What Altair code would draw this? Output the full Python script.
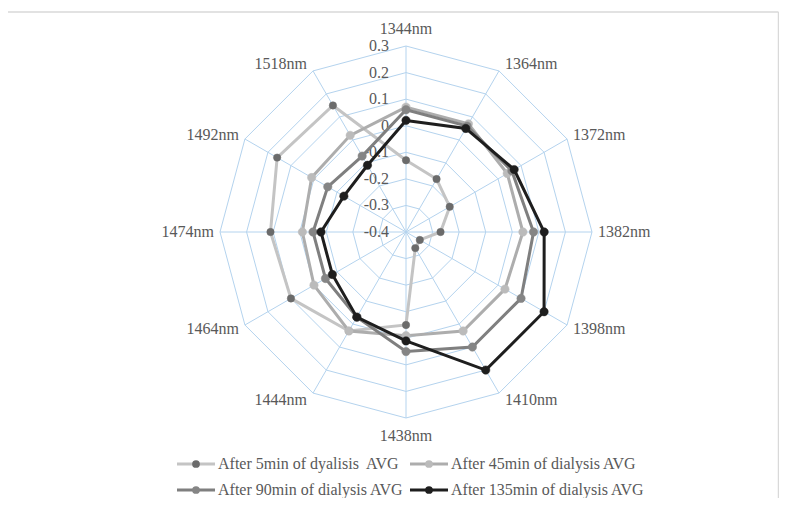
import math
import altair as alt
import pandas as pd

# ---------------- data ----------------
categories = ["1344nm", "1364nm", "1372nm", "1382nm", "1398nm", "1410nm",
              "1438nm", "1444nm", "1464nm", "1474nm", "1492nm", "1518nm"]
after_5min = [-0.13, -0.17, -0.21, -0.27, -0.34, -0.33, -0.05, 0.03, 0.10, 0.11, 0.16, 0.15]
after_45min = [0.07, 0.07, 0.04, 0.04, 0.03, 0.03, -0.01, 0.03, 0.00, -0.01, 0.01, 0.02]
after_90min = [0.06, 0.06, 0.06, 0.08, 0.10, 0.10, 0.05, -0.03, -0.05, -0.05, -0.06, -0.07]
after_135min = [0.02, 0.05, 0.07, 0.12, 0.20, 0.20, 0.01, -0.03, -0.08, -0.08, -0.13, -0.11]
series_names = ["After 5min of dyalisis\u00a0 AVG", "After 45min of dialysis AVG",
                "After 90min of dialysis AVG", "After 135min of dialysis AVG"]
series_values = [after_5min, after_45min, after_90min, after_135min]
tick_values = [-0.4, -0.3, -0.2, -0.1, 0.0, 0.1, 0.2, 0.3]
tick_labels = ["-0.4", "-0.3", "-0.2", "-0.1", "0", "0.1", "0.2", "0.3"]

# ---------------- styles ----------------
line_colors = ["#C4C4C4", "#ADADAD", "#7F7F7F", "#1E1E1E"]
marker_colors = ["#6B6B6B", "#BBBBBB", "#858585", "#1E1E1E"]
marker_sizes = [55, 70, 70, 70]
grid_color = "#B4D3EE"
text_color = "#595959"
FONT = "Liberation Serif"
FS = 16

W, H = 771, 490
CX, CY = 398, 224          # centre of the radar, in plot pixels
K = 265.7                  # pixels per value unit
RMIN = tick_values[0]
RMAX = tick_values[-1] - RMIN

xs = alt.Scale(domain=[-CX / K, (W - CX) / K], range=[0, W], nice=False, zero=False)
ys = alt.Scale(domain=[-(H - CY) / K, CY / K], range=[H, 0], nice=False, zero=False)
noax = None

n = len(categories)
ang = [2 * math.pi * i / n for i in range(n)]

# series table
rows = []
for s, (name, vals) in enumerate(zip(series_names, series_values)):
    for i in range(n + 1):
        j = i % n
        r = vals[j] - RMIN
        rows.append({"series": name, "sid": s, "cat": categories[j], "value": vals[j],
                     "ord": i, "x": r * math.sin(ang[j]), "y": r * math.cos(ang[j])})
sdf = pd.DataFrame(rows)

# grid rings
grows = []
for t in tick_values[1:]:
    r = t - RMIN
    for i in range(n + 1):
        j = i % n
        grows.append({"ring": t, "ord": i, "x": r * math.sin(ang[j]), "y": r * math.cos(ang[j])})
gdf = pd.DataFrame(grows)

spdf = pd.DataFrame({"x": [0.0] * n, "y": [0.0] * n,
                     "x2": [RMAX * math.sin(a) for a in ang],
                     "y2": [RMAX * math.cos(a) for a in ang]})

tdf = pd.DataFrame({"x": [0.0] * len(tick_values),
                    "y": [t - RMIN for t in tick_values], "label": tick_labels})

# category labels
lrows = []
for c, a in zip(categories, ang):
    s, co = math.sin(a), math.cos(a)
    vx, vy = RMAX * s, RMAX * co
    if abs(s) < 0.01:
        align = "center"
        dxp = 0
        dyp = -17 if co > 0 else 18
    else:
        align = "left" if s > 0 else "right"
        dxp = 6 if s > 0 else -6
        dyp = -8 * co
    lrows.append({"label": c, "align": align, "x": vx + dxp / K, "y": vy - dyp / K})
ldf = pd.DataFrame(lrows)

X = lambda f: alt.X(f, type="quantitative", scale=xs, axis=noax)
Y = lambda f: alt.Y(f, type="quantitative", scale=ys, axis=noax)

rings = alt.Chart(gdf).mark_line(color=grid_color, strokeWidth=1).encode(
    x=X("x"), y=Y("y"), detail="ring:N", order="ord:Q")
spokes = alt.Chart(spdf).mark_rule(color=grid_color, strokeWidth=1).encode(
    x=X("x"), y=Y("y"), x2="x2", y2="y2")
ticks = alt.Chart(tdf).mark_text(align="right", baseline="middle", dx=-17,
                                 font=FONT, fontSize=FS, color=text_color).encode(
    x=X("x"), y=Y("y"), text="label:N")

label_layers = []
for al in ["left", "center", "right"]:
    label_layers.append(
        alt.Chart(ldf).transform_filter(alt.datum.align == al).mark_text(
            align=al, baseline="middle", font=FONT, fontSize=FS, color=text_color).encode(
            x=X("x"), y=Y("y"), text="label:N"))

series_layers = []
for s, name in enumerate(series_names):
    base = alt.Chart(sdf).transform_filter(alt.datum.sid == s)
    series_layers.append(base.mark_line(color=line_colors[s], strokeWidth=3).encode(
        x=X("x"), y=Y("y"), order="ord:Q"))
    series_layers.append(base.transform_filter(alt.datum.ord < n).mark_point(
        filled=True, fill=marker_colors[s], opacity=1, size=marker_sizes[s], shape="circle",
        stroke=marker_colors[s], strokeWidth=0.5).encode(
        x=X("x"), y=Y("y"), tooltip=["series:N", "cat:N", "value:Q"]))

# legend (manual, pixel positions)
leg_col_x = [169, 402]
leg_row_y = [456, 482]
legrows = []
for s, name in enumerate(series_names):
    x0 = leg_col_x[s % 2]
    y0 = leg_row_y[s // 2]
    legrows.append({"name": name, "x0": x0, "x1": x0 + 38, "xm": x0 + 19, "xt": x0 + 41,
                    "y": y0, "lc": line_colors[s], "mc": marker_colors[s]})
legdf = pd.DataFrame(legrows)
PX = lambda f: alt.X(f, type="quantitative", scale=None)
PY = lambda f: alt.Y(f, type="quantitative", scale=None)
leg_lines = alt.Chart(legdf).mark_rule(strokeWidth=3).encode(
    x=PX("x0"), x2="x1", y=PY("y"), color=alt.Color("lc:N", scale=None))
leg_pts = alt.Chart(legdf).mark_point(filled=True, opacity=1, size=60, shape="circle").encode(
    x=PX("xm"), y=PY("y"), fill=alt.Fill("mc:N", scale=None))
leg_txt = alt.Chart(legdf).mark_text(align="left", baseline="middle", font=FONT,
                                     fontSize=FS, color=text_color).encode(
    x=PX("xt"), y=PY("y"), text="name:N")

frame_top = alt.Chart(pd.DataFrame({"k": [0]})).mark_rule(color="#D9D9D9", strokeWidth=1.5).encode(
    x=alt.value(0), x2=alt.value(W - 0.5), y=alt.value(4))
frame_right = alt.Chart(pd.DataFrame({"k": [0]})).mark_rule(color="#D9D9D9", strokeWidth=1.5).encode(
    x=alt.value(W - 0.5), y=alt.value(4), y2=alt.value(H))

chart = alt.layer(
    frame_top, frame_right, rings, spokes, ticks, *label_layers, *series_layers,
    leg_lines, leg_pts, leg_txt
).properties(
    width=W, height=H, padding=0, autosize=alt.AutoSizeParams(type="none")
).configure_view(stroke=None)

chart.save("out.html", embed_options={"renderer": "svg", "actions": False})
